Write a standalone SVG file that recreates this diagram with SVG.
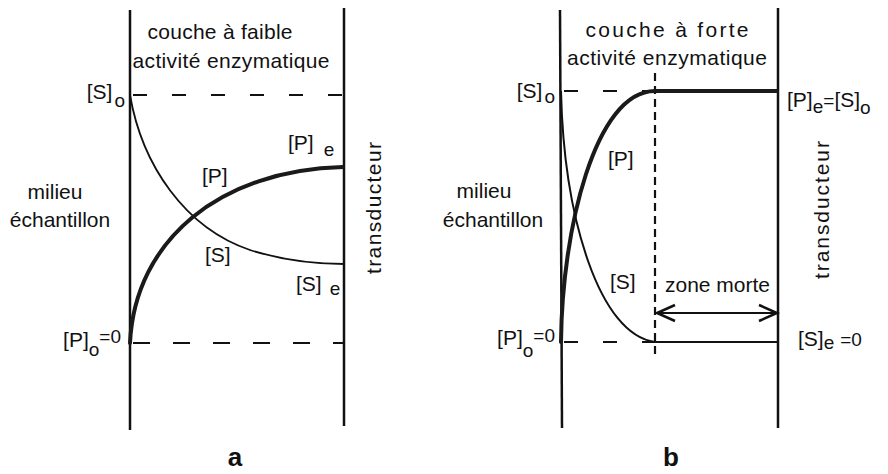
<svg xmlns="http://www.w3.org/2000/svg" width="888" height="474" viewBox="0 0 888 474">
<defs>
<style>
.t{font-family:"Liberation Sans",Arial,sans-serif;font-size:21px;fill:#111}
.sub{font-size:19px}
.lbl{font-family:"Liberation Sans",Arial,sans-serif;font-size:26px;font-weight:bold;fill:#111}
.wall{stroke:#111;stroke-width:2.5;fill:none}
.dash{stroke:#111;stroke-width:2.2;fill:none;stroke-dasharray:14 25}
.vdash{stroke:#111;stroke-width:2.2;fill:none;stroke-dasharray:8 5}
.s{stroke:#111;stroke-width:1.8;fill:none}
.p{stroke:#1a1a1a;stroke-width:4;fill:none;stroke-linecap:round}
.arr{stroke:#111;stroke-width:2;fill:none}
</style>
<marker id="chev" viewBox="0 0 20 18" refX="19" refY="9" markerWidth="20" markerHeight="18" markerUnits="userSpaceOnUse" orient="auto-start-reverse" overflow="visible">
<path d="M1,1 L19,9 L1,17" fill="none" stroke="#111" stroke-width="2.5"/>
</marker>
</defs>
<rect width="888" height="474" fill="#fff"/>

<g id="panel-a">
<g id="a-walls">
<line class="wall" x1="130" y1="10" x2="130" y2="430"/>
<line class="wall" x1="344" y1="8" x2="344" y2="426"/>
</g>
<g id="a-connectors">
<line class="dash" x1="133" y1="95" x2="343" y2="95"/>
<line class="dash" x1="133" y1="343" x2="343" y2="343" style="stroke-dasharray:17 23"/>
<path id="a-S" class="s" d="M130,95 C142,165 185,228 250,250 C285,261 315,264 344,264"/>
<path id="a-P" class="p" d="M130,343 C135,240 220,170 343,167"/>
</g>
<g id="a-texts">
<text class="t" x="220" y="39" text-anchor="middle" textLength="145">couche à faible</text>
<text class="t" x="231" y="68" text-anchor="middle" textLength="197">activité enzymatique</text>
<text class="t" x="125" y="99" text-anchor="end">[S]<tspan class="sub" dx="2" dy="8">o</tspan></text>
<text class="t" x="55" y="199" text-anchor="middle">milieu</text>
<text class="t" x="60" y="227" text-anchor="middle">échantillon</text>
<text class="t" x="121" y="347" text-anchor="end">[P]<tspan class="sub" dy="9">o</tspan><tspan class="sub" dy="-13">=0</tspan></text>
<text class="t" x="202" y="183">[P]</text>
<text class="t" x="205" y="262">[S]</text>
<text class="t" x="288" y="150">[P]<tspan class="sub" dx="10" dy="6">e</tspan></text>
<text class="t" x="296" y="291">[S]<tspan class="sub" dx="8" dy="4">e</tspan></text>
<text class="t" transform="translate(381,208) rotate(-90)" text-anchor="middle" textLength="132">transducteur</text>
<text class="lbl" x="235" y="466" text-anchor="middle">a</text>
</g>
</g>

<g id="panel-b">
<g id="b-walls">
<line class="wall" x1="560" y1="10" x2="562" y2="428"/>
<line class="wall" x1="778" y1="8" x2="778" y2="428"/>
</g>
<g id="b-connectors">
<line class="dash" x1="564" y1="91" x2="655" y2="91"/>
<line class="dash" x1="564" y1="342" x2="655" y2="342"/>
<line class="vdash" x1="655" y1="73" x2="655" y2="358"/>
<path id="b-P" class="p" d="M561,342 C562,230 595,91 655,91 L777,91"/>
<path id="b-S" class="s" d="M561,91 C564,220 600,335 655,342 L777,342" style="stroke-width:2"/>
<line id="zone-morte-arrow" class="arr" x1="657" y1="313" x2="777" y2="313" marker-start="url(#chev)" marker-end="url(#chev)"/>
</g>
<g id="b-texts">
<text class="t" x="667" y="37" text-anchor="middle" textLength="163">couche à forte</text>
<text class="t" x="667" y="65" text-anchor="middle" textLength="200">activité enzymatique</text>
<text class="t" x="555" y="98" text-anchor="end">[S]<tspan class="sub" dx="2" dy="5">o</tspan></text>
<text class="t" x="484" y="198" text-anchor="middle">milieu</text>
<text class="t" x="493" y="227" text-anchor="middle">échantillon</text>
<text class="t" x="555" y="345" text-anchor="end">[P]<tspan class="sub" dy="12">o</tspan><tspan class="sub" dy="-15">=0</tspan></text>
<text class="t" x="608" y="166">[P]</text>
<text class="t" x="610" y="289">[S]</text>
<text class="t" x="665" y="292">zone morte</text>
<text class="t" x="787" y="107">[P]<tspan class="sub" dy="6">e</tspan><tspan class="sub" dy="-6">=</tspan>[S]<tspan class="sub" dy="7">o</tspan></text>
<text class="t" x="798" y="346">[S]<tspan class="sub" dy="3">e</tspan><tspan class="sub" dx="6" dy="-3">=0</tspan></text>
<text class="t" transform="translate(829,210) rotate(-90)" text-anchor="middle" textLength="138">transducteur</text>
<text class="lbl" x="671" y="466" text-anchor="middle">b</text>
</g>
</g>
</svg>
